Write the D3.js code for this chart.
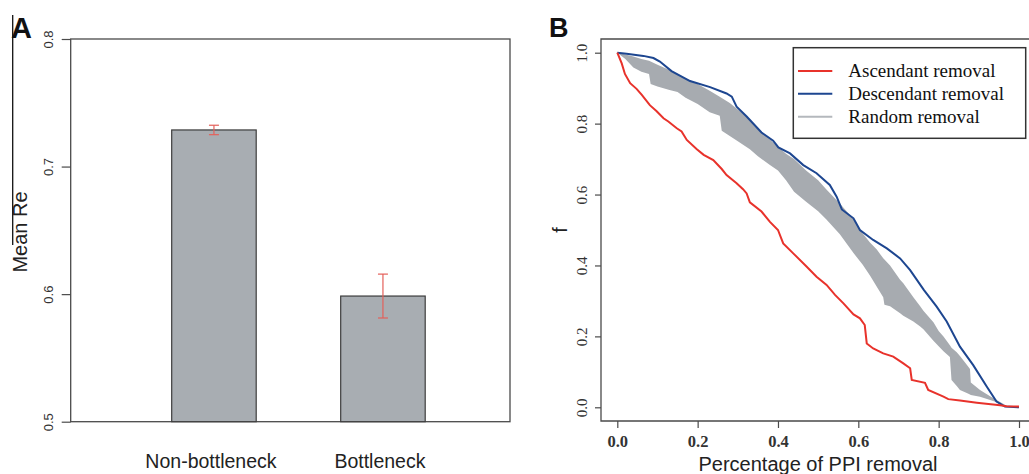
<!DOCTYPE html>
<html>
<head>
<meta charset="utf-8">
<script src="https://cdn.jsdelivr.net/npm/d3@7"></script>
<style>
  body { margin: 0; background: #fff; }
  svg { display: block; }
</style>
</head>
<body>
<div id="graph"></div>
<script>
// Panel A data
const groups = ["Non-bottleneck", "Bottleneck"];
const meanRe = [0.7287, 0.5985];
const errRe = [0.0037, 0.0172];
const ticksA = [0.5, 0.6, 0.7, 0.8];

// Panel B data
const xAsc = [0, 0.011, 0.019, 0.032, 0.048, 0.061, 0.081, 0.098, 0.115, 0.127, 0.148, 0.16, 0.173, 0.198, 0.215, 0.239, 0.26, 0.272, 0.297, 0.313, 0.322, 0.33, 0.359, 0.38, 0.4, 0.413, 0.438, 0.471, 0.496, 0.521, 0.542, 0.563, 0.588, 0.604, 0.616, 0.621, 0.637, 0.662, 0.687, 0.712, 0.729, 0.733, 0.766, 0.774, 0.812, 0.824, 0.853, 0.895, 0.953, 0.969, 1.0];
const fAsc = [1.0, 0.97, 0.94, 0.914, 0.898, 0.881, 0.852, 0.835, 0.815, 0.806, 0.787, 0.778, 0.754, 0.728, 0.712, 0.697, 0.672, 0.655, 0.632, 0.615, 0.603, 0.578, 0.552, 0.523, 0.5, 0.462, 0.434, 0.397, 0.368, 0.345, 0.317, 0.293, 0.262, 0.251, 0.232, 0.18, 0.166, 0.152, 0.143, 0.124, 0.11, 0.077, 0.069, 0.049, 0.03, 0.023, 0.019, 0.013, 0.006, 0.003, 0.002];

const xDesc = [0, 0.023, 0.065, 0.09, 0.106, 0.135, 0.181, 0.231, 0.272, 0.285, 0.297, 0.322, 0.359, 0.388, 0.401, 0.43, 0.463, 0.496, 0.529, 0.546, 0.559, 0.588, 0.604, 0.637, 0.671, 0.704, 0.729, 0.763, 0.795, 0.82, 0.853, 0.886, 0.92, 0.944, 0.965, 1.0];
const fDesc = [1.0, 0.997, 0.991, 0.985, 0.975, 0.948, 0.92, 0.903, 0.885, 0.876, 0.848, 0.82, 0.775, 0.752, 0.733, 0.716, 0.683, 0.66, 0.627, 0.594, 0.558, 0.533, 0.5, 0.472, 0.448, 0.42, 0.387, 0.331, 0.284, 0.242, 0.171, 0.119, 0.058, 0.016, 0.002, 0.0];

const xRand = [0, 0.02, 0.04, 0.06, 0.079, 0.083, 0.1, 0.13, 0.15, 0.17, 0.2, 0.23, 0.255, 0.26, 0.28, 0.3, 0.33, 0.35, 0.38, 0.4, 0.42, 0.44, 0.47, 0.5, 0.52, 0.554, 0.588, 0.611, 0.629, 0.646, 0.662, 0.665, 0.679, 0.704, 0.712, 0.737, 0.754, 0.762, 0.787, 0.8, 0.812, 0.828, 0.832, 0.845, 0.853, 0.87, 0.878, 0.88, 0.903, 0.93, 0.953, 0.97];
const fRandHigh = [1.0, 0.995, 0.989, 0.982, 0.977, 0.975, 0.966, 0.951, 0.94, 0.929, 0.912, 0.893, 0.876, 0.872, 0.858, 0.84, 0.812, 0.785, 0.755, 0.735, 0.715, 0.7, 0.668, 0.64, 0.615, 0.575, 0.53, 0.49, 0.465, 0.445, 0.42, 0.417, 0.4, 0.36, 0.35, 0.31, 0.285, 0.272, 0.24, 0.215, 0.2, 0.175, 0.168, 0.155, 0.145, 0.12, 0.108, 0.07, 0.049, 0.03, 0.015, 0.004];
const fRandLow = [1.0, 0.982, 0.958, 0.946, 0.94, 0.912, 0.905, 0.895, 0.889, 0.873, 0.855, 0.832, 0.822, 0.78, 0.765, 0.75, 0.728, 0.708, 0.683, 0.668, 0.64, 0.608, 0.58, 0.553, 0.53, 0.488, 0.435, 0.402, 0.372, 0.34, 0.31, 0.289, 0.285, 0.265, 0.258, 0.242, 0.228, 0.22, 0.188, 0.172, 0.158, 0.142, 0.077, 0.06, 0.049, 0.04, 0.036, 0.035, 0.03, 0.02, 0.011, 0.004];

const ticksB = [0, 0.2, 0.4, 0.6, 0.8, 1.0];
const legendLabels = ["Ascendant removal", "Descendant removal", "Random removal"];

const width = 1029;
const height = 474;
const sans = "Liberation Sans, Arial, sans-serif";
const serif = "Liberation Serif, Times New Roman, serif";
const axisColor = "#4a4a4a";
const red = "#e8322b";
const blue = "#1d4690";
const grey = "#a7abb0";

const svg = d3.select('#graph').append('svg')
    .attr('width', width)
    .attr('height', height);

// ---------- Panel A ----------
const boxA = { left: 70.7, right: 510, top: 39, bottom: 421.7 };

const yA = d3.scaleLinear()
    .domain([0.5, 0.8])
    .range([boxA.bottom, boxA.top]);

const xA = d3.scaleBand()
    .domain(groups)
    .range([129.45, 467.45])
    .paddingInner(0.5)
    .paddingOuter(0.25);

const gA = svg.append('g');

// frame
gA.append('rect')
    .attr('x', boxA.left).attr('y', boxA.top)
    .attr('width', boxA.right - boxA.left)
    .attr('height', boxA.bottom - boxA.top)
    .attr('fill', 'none')
    .attr('stroke', axisColor)
    .attr('stroke-width', 1.3);

// bars
gA.selectAll('.bar')
    .data(groups)
    .enter().append('rect')
    .attr('class', 'bar')
    .attr('x', d => xA(d))
    .attr('y', (d, i) => yA(meanRe[i]))
    .attr('width', xA.bandwidth())
    .attr('height', (d, i) => yA(0.5) - yA(meanRe[i]))
    .attr('fill', '#a8adb2')
    .attr('stroke', '#3c3c3c')
    .attr('stroke-width', 1.2);

// error bars
const eb = gA.selectAll('.err')
    .data(groups)
    .enter().append('g')
    .attr('class', 'err')
    .attr('stroke', '#e4605a')
    .attr('stroke-width', 1.2);
eb.append('line')
    .attr('x1', d => xA(d) + xA.bandwidth() / 2)
    .attr('x2', d => xA(d) + xA.bandwidth() / 2)
    .attr('y1', (d, i) => yA(meanRe[i] + errRe[i]))
    .attr('y2', (d, i) => yA(meanRe[i] - errRe[i]));
[1, -1].forEach(s => {
    eb.append('line')
        .attr('x1', d => xA(d) + xA.bandwidth() / 2 - 5)
        .attr('x2', d => xA(d) + xA.bandwidth() / 2 + 5)
        .attr('y1', (d, i) => yA(meanRe[i] + s * errRe[i]))
        .attr('y2', (d, i) => yA(meanRe[i] + s * errRe[i]));
});

// y axis
const axA = gA.append('g')
    .attr('transform', `translate(${boxA.left},0)`)
    .call(d3.axisLeft(yA).tickValues(ticksA).tickSize(9).tickFormat(d3.format('.1f')));
axA.select('.domain').remove();
axA.selectAll('line').attr('stroke', axisColor).attr('stroke-width', 1.2);
axA.selectAll('text')
    .attr('x', 0).attr('dy', 0)
    .attr('text-anchor', 'middle')
    .attr('transform', 'translate(-17.5,0) rotate(-90)')
    .attr('font-family', sans)
    .attr('font-size', 13)
    .attr('fill', '#333');

// category labels
gA.selectAll('.cat')
    .data(groups)
    .enter().append('text')
    .attr('class', 'cat')
    .attr('x', d => xA(d) + xA.bandwidth() / 2 - 3)
    .attr('y', 468)
    .attr('text-anchor', 'middle')
    .attr('font-family', sans)
    .attr('font-size', 19.5)
    .attr('fill', '#222')
    .text(d => d);

// y label
gA.append('text')
    .attr('transform', 'translate(26.5,232) rotate(-90)')
    .attr('text-anchor', 'middle')
    .attr('font-family', sans)
    .attr('font-size', 20)
    .attr('fill', '#222')
    .text('Mean Re');

// stray vertical rule from the original figure
gA.append('line')
    .attr('x1', 12.7).attr('x2', 12.7)
    .attr('y1', 15).attr('y2', 245)
    .attr('stroke', '#111')
    .attr('stroke-width', 1.3);

svg.append('text')
    .attr('x', 11).attr('y', 38)
    .attr('font-family', sans)
    .attr('font-weight', 'bold')
    .attr('font-size', 29)
    .attr('fill', '#111')
    .text('A');

// ---------- Panel B ----------
const boxB = { left: 601, right: 1029, top: 39, bottom: 421 };

const xB = d3.scaleLinear().domain([0, 1]).range([617.3, 1019]);
const yB = d3.scaleLinear().domain([0, 1]).range([407.3, 52.7]);

const gB = svg.append('g');

// random removal band
const randData = xRand.map((x, i) => ({ x: x, hi: fRandHigh[i], lo: fRandLow[i] }));
gB.append('path')
    .datum(randData)
    .attr('fill', grey)
    .attr('d', d3.area()
        .x(d => xB(d.x))
        .y0(d => yB(d.lo))
        .y1(d => yB(d.hi)));

const line = d3.line().x(d => xB(d[0])).y(d => yB(d[1]));

gB.append('path')
    .datum(xDesc.map((x, i) => [x, fDesc[i]]))
    .attr('fill', 'none')
    .attr('stroke', blue)
    .attr('stroke-width', 2)
    .attr('d', line);

gB.append('path')
    .datum(xAsc.map((x, i) => [x, fAsc[i]]))
    .attr('fill', 'none')
    .attr('stroke', red)
    .attr('stroke-width', 2)
    .attr('d', line);

// frame (left, top, bottom; right edge runs off the figure)
gB.append('path')
    .attr('d', `M${boxB.right},${boxB.top}H${boxB.left}V${boxB.bottom}H${boxB.right}`)
    .attr('fill', 'none')
    .attr('stroke', axisColor)
    .attr('stroke-width', 1.3);

// x axis
const axBx = gB.append('g')
    .attr('transform', `translate(0,${boxB.bottom})`)
    .call(d3.axisBottom(xB).tickValues(ticksB).tickSize(7).tickFormat(d3.format('.1f')));
axBx.select('.domain').remove();
axBx.selectAll('line').attr('stroke', axisColor).attr('stroke-width', 1.2);
axBx.selectAll('text')
    .attr('y', 25.5).attr('dy', 0)
    .attr('font-family', serif)
    .attr('font-size', 16.5)
    .attr('font-weight', 'bold')
    .attr('fill', '#333');

// y axis
const axBy = gB.append('g')
    .attr('transform', `translate(${boxB.left},0)`)
    .call(d3.axisLeft(yB).tickValues(ticksB).tickSize(6).tickFormat(d3.format('.1f')));
axBy.select('.domain').remove();
axBy.selectAll('line').attr('stroke', axisColor).attr('stroke-width', 1.2);
axBy.selectAll('text')
    .attr('x', 0).attr('dy', 0)
    .attr('text-anchor', 'middle')
    .attr('transform', 'translate(-14.5,0) rotate(-90)')
    .attr('font-family', serif)
    .attr('font-size', 15)
    .attr('fill', '#333');

// axis titles
gB.append('text')
    .attr('x', 818).attr('y', 471)
    .attr('text-anchor', 'middle')
    .attr('font-family', sans)
    .attr('font-size', 20)
    .attr('fill', '#222')
    .text('Percentage of PPI removal');

gB.append('text')
    .attr('transform', 'translate(567,230) rotate(-90)')
    .attr('text-anchor', 'middle')
    .attr('font-family', sans)
    .attr('font-size', 20)
    .attr('fill', '#222')
    .text('f');

svg.append('text')
    .attr('x', 549).attr('y', 37)
    .attr('font-family', sans)
    .attr('font-weight', 'bold')
    .attr('font-size', 27)
    .attr('fill', '#111')
    .text('B');

// legend
const legend = gB.append('g');
legend.append('rect')
    .attr('x', 793.3).attr('y', 47.7)
    .attr('width', 232.4).attr('height', 90.6)
    .attr('fill', '#fff')
    .attr('stroke', '#333')
    .attr('stroke-width', 1.5);

const legendColors = [red, blue, "#b4b8bd"];
const legendY = d3.scalePoint().domain(legendLabels).range([71, 116.7]);

legend.selectAll('.lg-line')
    .data(legendLabels)
    .enter().append('line')
    .attr('x1', 798).attr('x2', 832.3)
    .attr('y1', d => legendY(d)).attr('y2', d => legendY(d))
    .attr('stroke', (d, i) => legendColors[i])
    .attr('stroke-width', 2);

legend.selectAll('.lg-text')
    .data(legendLabels)
    .enter().append('text')
    .attr('x', 848.3)
    .attr('y', d => legendY(d))
    .attr('dy', '0.33em')
    .attr('font-family', serif)
    .attr('font-size', 19)
    .attr('fill', '#111')
    .text(d => d);
</script>
</body>
</html>
